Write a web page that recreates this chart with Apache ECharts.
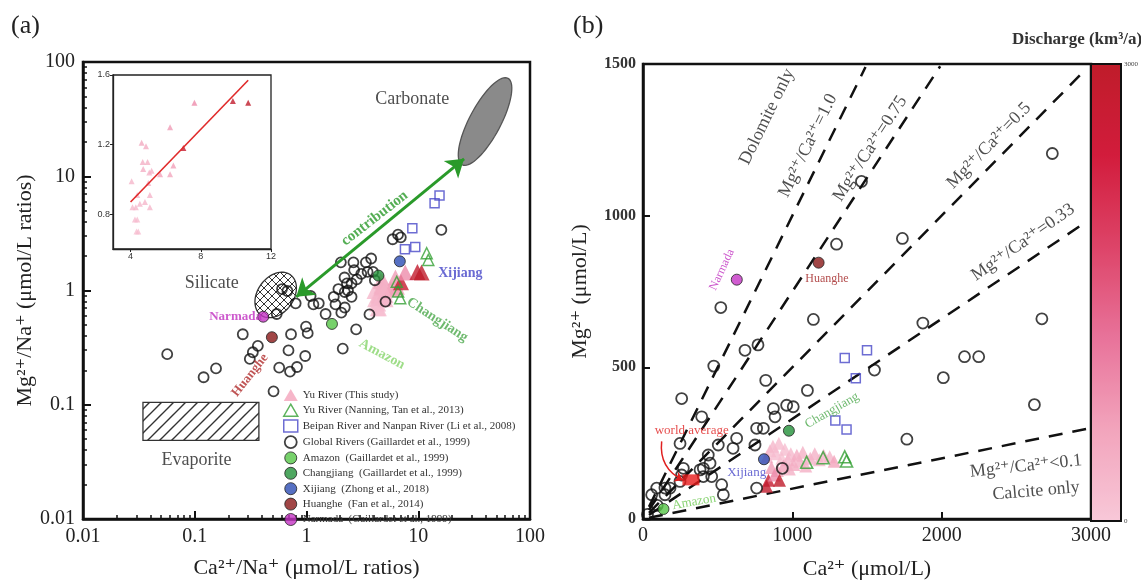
<!DOCTYPE html>
<html>
<head>
<meta charset="utf-8">
<script src="https://cdn.jsdelivr.net/npm/echarts@6/dist/echarts.min.js"></script>
<style>
  html, body { margin: 0; padding: 0; background: #fff; }
  #chart { width: 1141px; height: 585px; }
</style>
</head>
<body>
<div id="chart"></div>
<script>
const SERIF = "'Liberation Serif', 'DejaVu Serif', serif";

// ---- panel (a): ratios normalised to Na ----
const yuCaNa = [4.06, 4.11, 4.30, 4.25, 4.38, 4.34, 4.44, 4.38, 4.53, 4.63, 4.88, 4.69, 4.97, 4.72, 5.07, 5.20, 4.82, 5.10, 5.10, 5.68, 6.25, 6.25, 6.44, 5.01, 7.01, 7.64, 9.83, 10.7];
const yuMgNa = [0.99, 0.84, 0.84, 0.77, 0.77, 0.70, 0.70, 0.91, 0.86, 1.21, 1.19, 1.10, 1.10, 1.06, 1.04, 1.05, 0.87, 0.91, 0.84, 1.03, 1.30, 1.03, 1.08, 0.98, 1.18, 1.44, 1.45, 1.44];
const yuDischarge = [300, 250, 280, 200, 220, 150, 180, 320, 260, 500, 450, 400, 380, 420, 350, 370, 300, 330, 290, 600, 700, 550, 650, 400, 2800, 900, 2900, 3000];
const trendCaNa = [4.0, 10.7];
const trendMgNa = [0.87, 1.57];

const globalCaNa = [0.0567, 0.12, 0.155, 0.269, 0.311, 0.331, 0.367, 0.507, 0.541, 0.57, 0.69, 0.727, 0.712, 0.822, 0.974, 0.99, 1.025, 0.80, 0.604, 0.675, 1.088, 1.153, 1.288, 1.482, 1.755, 1.818, 1.93, 2.03, 2.11, 2.19, 2.30, 2.53, 2.53, 2.63, 2.67, 2.78, 2.82, 3.09, 3.40, 3.52, 3.66, 3.79, 3.94, 4.09, 5.09, 5.90, 6.59, 6.98, 16.1, 2.2, 2.35, 2.05, 2.2];
const globalMgNa = [0.277, 0.174, 0.208, 0.414, 0.252, 0.288, 0.328, 0.131, 0.623, 0.211, 0.299, 0.414, 0.195, 0.214, 0.267, 0.483, 0.423, 0.773, 1.03, 0.99, 0.895, 0.756, 0.773, 0.623, 0.881, 0.756, 1.03, 1.765, 0.31, 1.30, 1.153, 1.153, 0.881, 1.765, 1.51, 0.457, 1.25, 1.40, 1.765, 1.455, 0.618, 1.905, 1.455, 1.23, 0.80, 2.81, 3.08, 2.92, 3.40, 0.97, 1.0, 0.64, 0.71];
const nanningCaNa = [6.42, 6.6, 6.9, 11.9, 12.3];
const nanningMgNa = [1.19, 0.98, 0.855, 2.12, 1.85];
const beipanCaNa = [8.85, 7.6, 9.4, 14, 15.5];
const beipanMgNa = [3.5, 2.3, 2.4, 5.8, 6.8];
// Amazon, Changjiang, Xijiang, Huanghe, Narmada
const riverCaNa = [1.69, 4.4, 6.84, 0.49, 0.41];
const riverMgNa = [0.51, 1.35, 1.8, 0.39, 0.59];

// end-members: [x1, y1, x2, y2, minor/major ratio]
const carbonateField = [24.7, 12.6, 63.5, 72, 0.32];
const silicateField = [0.39, 0.61, 0.72, 1.37, 0.72];
const evaporiteBox = [0.0344, 0.0487, 0.375, 0.105];
const contribArrow = [[0.81, 0.88], [25.7, 14.2]];

// ---- panel (b): concentrations ----
const yuCa = [830, 850, 870, 890, 910, 930, 950, 970, 990, 1010, 1030, 1050, 1070, 1090, 1120, 1150, 1180, 1210, 1250, 1280, 860, 900, 940, 980, 840, 880, 827, 914];
const yuMg = [205, 225, 240, 215, 250, 200, 230, 195, 215, 180, 210, 190, 220, 175, 200, 215, 195, 210, 205, 190, 170, 160, 175, 165, 128, 145, 108, 128];
const globalCa = [2741, 1463, 1737, 1296, 1141, 1874, 2671, 521, 474, 683, 770, 822, 1550, 2153, 2248, 2011, 1101, 2621, 1767, 259, 393, 873, 884, 962, 1006, 761, 806, 603, 627, 504, 750, 437, 449, 404, 460, 404, 270, 259, 248, 147, 181, 147, 58, 92, 248, 382, 527, 538, 761, 933, 30, 95];
const globalMg = [1205, 1113, 925, 906, 658, 646, 660, 697, 504, 556, 574, 457, 491, 535, 535, 466, 424, 377, 263, 397, 337, 364, 337, 375, 370, 299, 299, 233, 266, 244, 244, 211, 184, 167, 140, 140, 167, 145, 249, 102, 102, 80, 80, 102, 124, 162, 113, 80, 102, 167, 15, 45];
const nanningCa = [1096, 1206, 1351, 1363];
const nanningMg = [187, 202, 205, 191];
const beipanCa = [1351, 1500, 1425, 1288, 1363];
const beipanMg = [531, 556, 464, 325, 295];
const riverCa = [137, 977, 810, 1176, 628];
const riverMg = [33, 291, 197, 845, 789];
const worldAvg = [321, 129];
const worldArrow = [[125, 256], [268, 128]];

const ratioK = [1.0, 0.75, 0.5, 0.33, 0.1];
const ratioStartCa = [40, 40, 40, 40, 40];
const ratioEndCa = [1490, 1990, 2940, 2950, 2980];

const dischargeTicks = [0, 3000];

const NAMES = [
  'Yu River (This study)',
  'Yu River (Nanning, Tan et al., 2013)',
  'Beipan River and Nanpan River (Li et al., 2008)',
  'Global Rivers (Gaillardet et al., 1999)',
  'Amazon  (Gaillardet et al., 1999)',
  'Changjiang  (Gaillardet et al., 1999)',
  'Xijiang  (Zhong et al., 2018)',
  'Huanghe  (Fan et al., 2014)',
  'Narmada  (Gaillardet et al., 1999)'
];
const riverColors = ['#55c646', '#23913a', '#2c4cb4', '#8a1818', '#c433c4'];

const zip = (xs, ys) => xs.map((x, i) => [x, ys[i]]);
const plain = v => String(v);

const minorTicks = [];
for (let d = -2; d < 2; d++) {
  for (let m = 2; m <= 9; m++) minorTicks.push(+(m * Math.pow(10, d)).toPrecision(3));
}

function hatch(cross) {
  const n = cross ? 8 : 12;
  const c = document.createElement('canvas');
  c.width = n; c.height = n;
  const g = c.getContext('2d');
  g.strokeStyle = '#333';
  g.lineWidth = cross ? 1 : 1.4;
  g.beginPath();
  g.moveTo(0, n); g.lineTo(n, 0);
  g.moveTo(-2, 2); g.lineTo(2, -2);
  g.moveTo(n - 2, n + 2); g.lineTo(n + 2, n - 2);
  if (cross) {
    g.moveTo(0, 0); g.lineTo(n, n);
    g.moveTo(-2, n - 2); g.lineTo(2, n + 2);
    g.moveTo(n - 2, -2); g.lineTo(n + 2, 2);
  }
  g.stroke();
  return c;
}

function ellipse(fill, stroke) {
  return function (params, api) {
    const p1 = api.coord([api.value(0), api.value(1)]);
    const p2 = api.coord([api.value(2), api.value(3)]);
    const cx = (p1[0] + p2[0]) / 2, cy = (p1[1] + p2[1]) / 2;
    const a = Math.hypot(p2[0] - p1[0], p2[1] - p1[1]) / 2;
    const b = a * api.value(4);
    const ang = Math.atan2(p2[1] - p1[1], p2[0] - p1[0]);
    const pts = [];
    for (let i = 0; i < 72; i++) {
      const t = i / 72 * Math.PI * 2;
      const ex = a * Math.cos(t), ey = b * Math.sin(t);
      pts.push([cx + ex * Math.cos(ang) - ey * Math.sin(ang), cy + ex * Math.sin(ang) + ey * Math.cos(ang)]);
    }
    return { type: 'polygon', shape: { points: pts }, style: { fill: fill, stroke: stroke, lineWidth: 1.3 } };
  };
}

function labels(list, xi, yi) {
  return {
    type: 'scatter', xAxisIndex: xi, yAxisIndex: yi, silent: true, z: 5,
    symbolSize: 1, itemStyle: { color: 'rgba(0,0,0,0)' },
    data: list.map(l => ({
      value: [l[1], l[2]],
      label: {
        show: true, position: 'inside', formatter: l[0], rotate: l[3], color: l[4],
        fontSize: l[5], fontFamily: SERIF, fontWeight: l[6] ? 'bold' : 'normal'
      }
    }))
  };
}

const hollow = (c, w) => ({ color: 'rgba(0,0,0,0)', borderColor: c, borderWidth: w });

const chart = echarts.init(document.getElementById('chart'));

const logAxis = (grid, extra) => Object.assign({
  type: 'log', logBase: 10, gridIndex: grid, min: 0.01, max: 100,
  axisLine: { show: true, lineStyle: { color: '#111', width: 2.5 } },
  axisTick: { inside: true, length: 8, lineStyle: { color: '#111', width: 2 } },
  axisLabel: { fontSize: 20, color: '#222', fontFamily: SERIF, margin: 8, formatter: plain },
  splitLine: { show: false }
}, extra);

const minorAxis = (extra) => Object.assign({
  type: 'log', logBase: 10, gridIndex: 0, min: 0.01, max: 100,
  axisLine: { show: false }, axisLabel: { show: false }, splitLine: { show: false },
  axisTick: { inside: true, length: 4, customValues: minorTicks, lineStyle: { color: '#111', width: 1.5 } }
}, extra);

const labelsA = [
  ['Carbonate', 8.85, 46.9, 0, '#222', 18],
  ['Silicate', 0.142, 1.15, 0, '#222', 18],
  ['Evaporite', 0.1035, 0.0326, 0, '#222', 18],
  ['Narmada', 0.232, 0.589, 0, '#c030c0', 13, 1],
  ['Huanghe', 0.312, 0.181, 52, '#b02a2a', 13, 1],
  ['Amazon', 4.73, 0.277, -28, '#86d46a', 14, 1],
  ['Changjiang', 14.8, 0.554, -33, '#4aa84a', 14, 1],
  ['Xijiang', 23.8, 1.40, 0, '#4545c8', 14, 1],
  ['contribution', 4.08, 4.28, 38, '#2a9a2a', 15, 1]
];
const labelsB = [
  ['Dolomite only', 830, 1326, 64, '#222', 18],
  ['Mg²⁺/Ca²⁺=1.0', 1105, 1231, 64, '#222', 18],
  ['Mg²⁺/Ca²⁺=0.75', 1520, 1221, 57, '#222', 18],
  ['Mg²⁺/Ca²⁺=0.5', 2317, 1231, 46, '#222', 18],
  ['Mg²⁺/Ca²⁺=0.33', 2545, 912, 35, '#222', 18],
  ['Mg²⁺/Ca²⁺<0.1', 2565, 174, 6, '#222', 18],
  ['Calcite only', 2632, 92, 5, '#222', 18],
  ['Narmada', 529, 822, 65, '#c030c0', 12],
  ['Huanghe', 1232, 791, 0, '#a02020', 12],
  ['Changjiang', 1266, 358, 30, '#4aa84a', 13],
  ['Xijiang', 694, 152, 0, '#4545c8', 13],
  ['Amazon', 342, 56, 10, '#6cc850', 13],
  ['world average', 326, 293, 0, '#e02020', 13]
];

const yuA = yuCaNa.map((x, i) => [x, yuMgNa[i], yuDischarge[i]]);
const yuB = yuCa.map((x, i) => [x, yuMg[i], yuDischarge[i]]);

const riverSeries = (xi, yi, xs, ys, size) => riverColors.map((c, i) => ({
  name: NAMES[4 + i], type: 'scatter', xAxisIndex: xi, yAxisIndex: yi, z: 4,
  symbol: 'circle', symbolSize: size,
  itemStyle: { color: c, borderColor: '#222', borderWidth: 1 },
  data: [[xs[i], ys[i]]]
}));

const series = [
  // (a) fields
  { type: 'custom', xAxisIndex: 0, yAxisIndex: 0, silent: true, renderItem: ellipse('#8a8a8a', '#555'), data: [carbonateField] },
  { type: 'custom', xAxisIndex: 0, yAxisIndex: 0, silent: true, renderItem: ellipse({ image: hatch(true), repeat: 'repeat' }, '#333'), data: [silicateField] },
  {
    type: 'custom', xAxisIndex: 0, yAxisIndex: 0, silent: true, data: [evaporiteBox],
    renderItem: (params, api) => {
      const p0 = api.coord([api.value(0), api.value(3)]);
      const p1 = api.coord([api.value(2), api.value(1)]);
      return { type: 'rect', shape: { x: p0[0], y: p0[1], width: p1[0] - p0[0], height: p1[1] - p0[1] },
        style: { fill: { image: hatch(false), repeat: 'repeat' }, stroke: '#333', lineWidth: 1.3 } };
    }
  },
  // (a) points
  { name: NAMES[0], type: 'scatter', xAxisIndex: 0, yAxisIndex: 0, symbol: 'triangle', symbolSize: 16, itemStyle: { color: '#f4a4bc' }, data: yuA },
  { name: NAMES[3], type: 'scatter', xAxisIndex: 0, yAxisIndex: 0, symbolSize: 10, itemStyle: hollow('#111', 1.8), data: zip(globalCaNa, globalMgNa) },
  { name: NAMES[1], type: 'scatter', xAxisIndex: 0, yAxisIndex: 0, symbol: 'triangle', symbolSize: 11, itemStyle: hollow('#35a035', 1.5), data: zip(nanningCaNa, nanningMgNa) },
  { name: NAMES[2], type: 'scatter', xAxisIndex: 0, yAxisIndex: 0, symbol: 'rect', symbolSize: 9, itemStyle: hollow('#4848c8', 1.5), data: zip(beipanCaNa, beipanMgNa) },
  ...riverSeries(0, 0, riverCaNa, riverMgNa, 11),
  {
    type: 'lines', coordinateSystem: 'cartesian2d', xAxisIndex: 0, yAxisIndex: 0, silent: true, z: 4,
    symbol: ['arrow', 'arrow'], symbolSize: 17,
    lineStyle: { color: '#2a9a2a', width: 3, opacity: 1 },
    data: [{ coords: contribArrow }]
  },
  labels(labelsA, 0, 0),
  // inset
  { type: 'line', xAxisIndex: 2, yAxisIndex: 2, symbol: 'none', silent: true, lineStyle: { color: '#e02a2a', width: 1.6 }, data: zip(trendCaNa, trendMgNa) },
  { name: 'inset', type: 'scatter', xAxisIndex: 2, yAxisIndex: 2, symbol: 'triangle', symbolSize: 6, data: yuA },
  // (b)
  {
    type: 'lines', coordinateSystem: 'cartesian2d', xAxisIndex: 3, yAxisIndex: 3, silent: true,
    lineStyle: { color: '#111', width: 2.5, type: [14, 10], opacity: 1 },
    data: ratioK.map((k, i) => ({ coords: [[ratioStartCa[i], k * ratioStartCa[i]], [ratioEndCa[i], k * ratioEndCa[i]]] }))
  },
  { name: NAMES[0], type: 'scatter', xAxisIndex: 3, yAxisIndex: 3, symbol: 'triangle', symbolSize: 13, itemStyle: { color: '#f4a4bc' }, data: yuB },
  { name: NAMES[3], type: 'scatter', xAxisIndex: 3, yAxisIndex: 3, symbolSize: 11, itemStyle: hollow('#111', 1.8), data: zip(globalCa, globalMg) },
  { name: NAMES[1], type: 'scatter', xAxisIndex: 3, yAxisIndex: 3, symbol: 'triangle', symbolSize: 12, itemStyle: hollow('#35a035', 1.6), data: zip(nanningCa, nanningMg) },
  { name: NAMES[2], type: 'scatter', xAxisIndex: 3, yAxisIndex: 3, symbol: 'rect', symbolSize: 9, itemStyle: hollow('#4848c8', 1.5), data: zip(beipanCa, beipanMg) },
  ...riverSeries(3, 3, riverCa, riverMg, 11),
  { type: 'scatter', xAxisIndex: 3, yAxisIndex: 3, symbol: 'rect', symbolSize: [17, 11], z: 4, itemStyle: { color: '#e81c1c' }, data: [worldAvg] },
  {
    type: 'lines', coordinateSystem: 'cartesian2d', xAxisIndex: 3, yAxisIndex: 3, silent: true, z: 4,
    symbol: ['none', 'arrow'], symbolSize: 8,
    lineStyle: { color: '#e02020', width: 1.5, curveness: -0.35, opacity: 1 },
    data: [{ coords: worldArrow }]
  },
  labels(labelsB, 3, 3)
];

const yuSeriesIdx = [];
series.forEach((s, i) => { if (s.name === NAMES[0] || s.name === 'inset') yuSeriesIdx.push(i); });

const legendIcons = [
  { icon: 'triangle', itemStyle: { color: '#f4a4bc' } },
  { icon: 'triangle', itemStyle: hollow('#35a035', 1.5) },
  { icon: 'rect', itemStyle: hollow('#4848c8', 1.5) },
  { icon: 'circle', itemStyle: hollow('#111', 1.8) }
].concat(riverColors.map(c => ({ icon: 'circle', itemStyle: { color: c, borderColor: '#222', borderWidth: 1 } })));

const option = {
  animation: false,
  backgroundColor: '#fff',
  title: [
    { text: '(a)', left: 6, top: 8, textStyle: { fontSize: 26, fontWeight: 'normal', fontFamily: SERIF, color: '#222' } },
    { text: '(b)', left: 568, top: 8, textStyle: { fontSize: 26, fontWeight: 'normal', fontFamily: SERIF, color: '#222' } },
    { text: 'Discharge (km³/a)', left: 1012, top: 31, padding: 0, textStyle: { fontSize: 17, fontWeight: 'bold', fontFamily: SERIF, color: '#333' } }
  ],
  legend: {
    orient: 'vertical', left: 283, top: 389, padding: 0, itemGap: 2.4, itemWidth: 14, itemHeight: 12,
    selectedMode: false,
    textStyle: { fontSize: 11, lineHeight: 12, color: '#333', fontFamily: SERIF },
    data: NAMES.map((n, i) => Object.assign({ name: n }, legendIcons[i]))
  },
  visualMap: {
    type: 'continuous', min: 0, max: 3000, dimension: 2, seriesIndex: yuSeriesIdx,
    left: 1091, top: 64, padding: 0, itemWidth: 30, itemHeight: 457,
    calculable: false, hoverLink: false, text: null,
    inRange: { color: ['#f8c8d8', '#f2a4bc', '#e8739a', '#dd4468', '#d21c3c', '#bf1c2a'] }
  },
  grid: [
    { left: 83, top: 62, width: 447, height: 457, show: true, borderColor: '#111', borderWidth: 2.5 },
    { left: 113, top: 75, width: 158, height: 174, show: true, backgroundColor: '#fff', borderColor: '#222', borderWidth: 1.3 },
    { left: 643, top: 64, width: 448, height: 457, show: true, borderColor: '#111', borderWidth: 2.5 },
    { left: 1091, top: 64, width: 30, height: 457, show: true, borderColor: '#111', borderWidth: 2, z: 10 }
  ],
  xAxis: [
    logAxis(0, {
      name: 'Ca²⁺/Na⁺ (μmol/L ratios)', nameLocation: 'middle', nameGap: 38,
      nameTextStyle: { fontSize: 22, fontFamily: SERIF, color: '#222' }
    }),
    minorAxis({ position: 'bottom' }),
    {
      type: 'value', gridIndex: 1, min: 3, max: 12,
      axisLine: { lineStyle: { color: '#222', width: 1.3 } },
      axisTick: { customValues: [4, 8, 12], length: 3, lineStyle: { color: '#222' } },
      axisLabel: { customValues: [4, 8, 12], fontSize: 9, margin: 3, color: '#333', fontFamily: "'Liberation Sans', sans-serif" },
      splitLine: { show: false }
    },
    {
      type: 'value', gridIndex: 2, min: 0, max: 3000, interval: 1000,
      name: 'Ca²⁺ (μmol/L)', nameLocation: 'middle', nameGap: 39,
      nameTextStyle: { fontSize: 22, fontFamily: SERIF, color: '#222' },
      axisLine: { lineStyle: { color: '#111', width: 2.5 } },
      axisTick: { inside: true, length: 7, lineStyle: { color: '#111', width: 2 } },
      axisLabel: { fontSize: 20, color: '#222', fontFamily: SERIF, margin: 7, formatter: plain },
      splitLine: { show: false }
    },
    { type: 'value', gridIndex: 3, min: 0, max: 1, show: false }
  ],
  yAxis: [
    logAxis(0, {
      name: 'Mg²⁺/Na⁺ (μmol/L ratios)', nameLocation: 'middle', nameGap: 47,
      nameTextStyle: { fontSize: 22, fontFamily: SERIF, color: '#222' }
    }),
    minorAxis({ position: 'left' }),
    {
      type: 'value', gridIndex: 1, min: 0.6, max: 1.6,
      axisLine: { lineStyle: { color: '#222', width: 1.3 } },
      axisTick: { customValues: [0.8, 1.2, 1.6], length: 3, lineStyle: { color: '#222' } },
      axisLabel: { customValues: [0.8, 1.2, 1.6], fontSize: 9, margin: 3, color: '#333', fontFamily: "'Liberation Sans', sans-serif", formatter: v => v.toFixed(1) },
      splitLine: { show: false }
    },
    {
      type: 'value', gridIndex: 2, min: 0, max: 1500, interval: 500,
      name: 'Mg²⁺ (μmol/L)', nameLocation: 'middle', nameGap: 52,
      nameTextStyle: { fontSize: 22, fontFamily: SERIF, color: '#222' },
      axisLine: { lineStyle: { color: '#111', width: 2.5 } },
      axisTick: { inside: true, length: 7, lineStyle: { color: '#111', width: 2 } },
      axisLabel: { fontSize: 16, fontWeight: 'bold', color: '#333', fontFamily: SERIF, margin: 7, formatter: plain },
      splitLine: { show: false }
    },
    {
      type: 'value', gridIndex: 3, min: 0, max: 3000, interval: 3000, position: 'right',
      axisLine: { show: false }, axisTick: { show: false }, splitLine: { show: false },
      axisLabel: { customValues: dischargeTicks, fontSize: 7, color: '#444', fontFamily: SERIF, margin: 3, formatter: plain }
    }
  ],
  series: series
};

chart.setOption(option);
</script>
</body>
</html>
